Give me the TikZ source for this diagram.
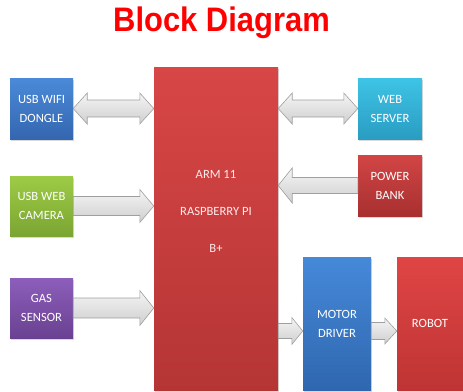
\documentclass[tikz,border=0pt]{standalone}
\usepackage{fontspec}
\setmainfont{Carlito}
\newfontfamily\titlefont{Liberation Sans}
\usetikzlibrary{calc}
\usetikzlibrary{shadows}

\definecolor{armtop}{HTML}{D84646}  \definecolor{armbot}{HTML}{B53535}
\definecolor{wifitop}{HTML}{4A8AD8} \definecolor{wifibot}{HTML}{3566B0}
\definecolor{webtop}{HTML}{3EC4E6}  \definecolor{webbot}{HTML}{2A9CC2}
\definecolor{powtop}{HTML}{D24545}  \definecolor{powbot}{HTML}{A83030}
\definecolor{camtop}{HTML}{9DCB46}  \definecolor{cambot}{HTML}{7BA532}
\definecolor{gastop}{HTML}{8C5EBA}  \definecolor{gasbot}{HTML}{6A4192}
\definecolor{mottop}{HTML}{4689D9}  \definecolor{motbot}{HTML}{2F67AF}
\definecolor{robtop}{HTML}{E04545}  \definecolor{robbot}{HTML}{BE3434}

% double block arrow: from, to, shaft half, head half, head length
\newcommand{\dblarrow}[5]{
  \draw[barrow] (#1) -- ($(#1)+(#5,-#4)$) -- ($(#1)+(#5,-#3)$)
    -- ($(#2)+(-#5,-#3)$) -- ($(#2)+(-#5,-#4)$) -- (#2)
    -- ($(#2)+(-#5,#4)$) -- ($(#2)+(-#5,#3)$)
    -- ($(#1)+(#5,#3)$) -- ($(#1)+(#5,#4)$) -- cycle;}
% single block arrow: tail, tip, shaft half, head half, head length
\newcommand{\fatarrow}[5]{
  \draw[barrow] ($(#1)+(0,-#3)$) -- ($(#2)+(-#5,-#3)$)
    -- ($(#2)+(-#5,-#4)$) -- (#2) -- ($(#2)+(-#5,#4)$)
    -- ($(#2)+(-#5,#3)$) -- ($(#1)+(0,#3)$) -- cycle;}

\begin{document}
\begin{tikzpicture}[x=1pt,y=-1pt,
   block/.style={inner sep=0pt, align=center, text=white,
     font=\fontsize{12.6}{19}\selectfont,
     drop shadow={opacity=0.3, shadow xshift=1pt, shadow yshift=-1.5pt}},
   barrow/.style={draw=gray!75, line width=0.6pt, top color=gray!8, bottom color=gray!38},
   title/.style={text=red, font=\titlefont\bfseries\fontsize{34}{40}\selectfont}]
   \useasboundingbox (0,0) rectangle (463,391);
   \node[title] (title) at (221.5,23) {\scalebox{0.91}[1]{Block Diagram}};

   \node[block, minimum width=124, minimum height=323, top color=armtop, bottom color=armbot] (arm) at (216,228.5) {};
   \node[text=white!92!red, align=center, font=\fontsize{12.6}{37}\selectfont] (armtext) at (216,211) {ARM 11\\RASPBERRY PI\\B+};

   \node[block, minimum width=63, minimum height=61, top color=wifitop, bottom color=wifibot] (wifi) at (41.5,108.5) {USB WIFI\\DONGLE};
   \node[block, minimum width=63, minimum height=60, top color=camtop, bottom color=cambot] (cam) at (41.5,206) {USB WEB\\CAMERA};
   \node[block, minimum width=63, minimum height=60, top color=gastop, bottom color=gasbot] (gas) at (41.5,308) {GAS\\SENSOR};
   \node[block, minimum width=64, minimum height=61, top color=webtop, bottom color=webbot] (web) at (390,108.5) {WEB\\SERVER};
   \node[block, minimum width=64, minimum height=61, top color=powtop, bottom color=powbot] (power) at (390,185.5) {POWER\\BANK};
   \node[block, minimum width=68, minimum height=133, top color=mottop, bottom color=motbot] (motor) at (337,323.5) {MOTOR\\DRIVER};
   \node[block, minimum width=66, minimum height=133, top color=robtop, bottom color=robbot] (robot) at (430,323.5) {ROBOT};

   \coordinate (drv) at (0,331);
   \dblarrow{wifi.east}{wifi.east -| arm.west}{8.5}{15.5}{14}
   \dblarrow{web.west -| arm.east}{web.west}{8.5}{15.5}{14}
   \fatarrow{power.west}{power.west -| arm.east}{8}{17.5}{-14}
   \fatarrow{cam.east}{cam.east -| arm.west}{9.5}{16.5}{14}
   \fatarrow{gas.east}{gas.east -| arm.west}{10}{17.5}{14}
   \fatarrow{arm.east |- drv}{motor.west |- drv}{7.5}{13.5}{11}
   \fatarrow{motor.east |- drv}{robot.west |- drv}{8.5}{13}{12}
\end{tikzpicture}
\end{document}
